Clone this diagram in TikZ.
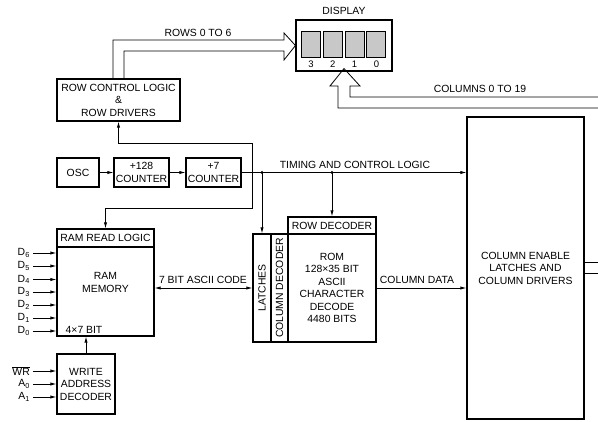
\documentclass[tikz,border=0pt]{standalone}
\usepackage{fontspec}
\setmainfont{Liberation Sans}
\usepackage{tikz}
\usetikzlibrary{
  arrows.meta,
  positioning,
  calc
}
\definecolor{digitgray}{RGB}{200,200,200}
\tikzset{
  blkbox/.style={draw, line width=1.1pt, inner sep=0pt,
    align=center, font=\fontsize{10.4}{12.5}\selectfont},
  lbl/.style={inner sep=0pt, align=center,
    font=\fontsize{10.4}{12.5}\selectfont},
  arr/.style={-{Latex[length=6pt,width=3.2pt]}, line width=0.8pt},
  darr/.style={{Latex[length=6pt,width=3.2pt]}-{Latex[length=6pt,width=3.2pt]}, line width=0.8pt},
  bus/.style={line width=0.8pt, line join=miter},
}

\begin{document}
\begin{tikzpicture}[x=1pt, y=-1pt]
  \useasboundingbox (0,0) rectangle (598,422);

  % Display
  \node[blkbox, minimum width=96pt, minimum height=51pt] (disp) at (344,45.5) {};
  \node[lbl, above=5pt of disp] (displbl) {DISPLAY};
  \foreach \i/\n in {0/3,1/2,2/1,3/0} {
    \node[draw, line width=0.9pt, fill=digitgray, minimum width=19pt,
          minimum height=26pt, inner sep=0pt] (dig\n) at (311+21.8*\i,44) {};
    \node[lbl, font=\fontsize{9.5}{11}\selectfont] at (311+21.8*\i,64) {\n};
  }

  % Row side
  \node[blkbox, minimum width=123pt, minimum height=42pt] (rowctl) at (118.5,100)
    {ROW CONTROL LOGIC\\\&\\ROW DRIVERS};

  % Timing chain
  \node[blkbox, minimum width=42pt, minimum height=29pt] (osc) at (78,172.5) {OSC};
  \node[blkbox, minimum width=55pt, minimum height=29pt] (cnta) at (141.5,172.5)
    {+128\\COUNTER};
  \node[blkbox, minimum width=55pt, minimum height=29pt] (cntb) at (213.5,172.5)
    {+7\\COUNTER};

  % RAM
  \node[blkbox, minimum width=97pt, minimum height=18pt] (ramrd) at (105.5,238)
    {RAM READ LOGIC};
  \node[blkbox, minimum width=97pt, minimum height=89pt] (ram) at (105.5,291.5) {};
  \node[lbl] (ramtxt) at ($(ram.center)+(0,-9)$) {RAM\\MEMORY};
  \node[lbl] (ramsize) at (84,330) {4×7 BIT};
  \node[blkbox, minimum width=58pt, minimum height=60pt] (wad) at (86,384)
    {WRITE\\ADDRESS\\DECODER};

  % ROM
  \node[blkbox, minimum width=88pt, minimum height=17pt] (rowdec) at (332,225.5)
    {ROW DECODER};
  \node[blkbox, minimum width=88pt, minimum height=108pt] (rom) at (332,288)
    {ROM\\128×35 BIT\\ASCII\\CHARACTER\\DECODE\\4480 BITS};
  \node[blkbox, minimum width=18pt, minimum height=108pt] (latch) at (262,288) {};
  \node[lbl, rotate=90] at (latch.center) {LATCHES};
  \node[blkbox, minimum width=17pt, minimum height=108pt] (coldec) at (279.5,288) {};
  \node[lbl, rotate=90] at (coldec.center) {COLUMN DECODER};

  % Column drivers
  \node[blkbox, minimum width=117pt, minimum height=302pt] (colen) at (525.5,268)
    {COLUMN ENABLE\\LATCHES AND\\COLUMN DRIVERS};

  % Rows bus
  \draw[bus] ([xshift=-5.5pt]rowctl.north) |- (284,40) -- (284,33) -- (disp.west)
    -- (284,60) -- (284,51) -| ([xshift=5.5pt]rowctl.north);
  \node[lbl] at (198,33) {ROWS 0 TO 6};

  % Columns bus
  \coordinate (cbi) at (598,97);
  \coordinate (cbo) at (598,108);
  \draw[bus] (cbi) -| (350,86) -- (360,86) -- ([yshift=3pt]disp.south)
    -- (330,86) -- (338,86) |- (cbo);
  \node[lbl] at (480,89) {COLUMNS 0 TO 19};
  \coordinate (outa) at (598,262);
  \coordinate (outb) at (598,273);
  \draw[line width=0.8pt] (outa -| colen.east) -- (outa);
  \draw[line width=0.8pt] (outb -| colen.east) -- (outb);

  % Timing and control
  \draw[arr] (osc) -- (cnta);
  \draw[arr] (cnta) -- (cntb);
  \draw[arr] (cntb.east) -- (cntb.east -| colen.west);
  \node[lbl] at (355,165) {TIMING AND CONTROL LOGIC};
  \coordinate (tapa) at (latch.north |- cntb.east);
  \coordinate (tapb) at (rowdec.north |- cntb.east);
  \fill (tapa) circle (1.6pt);
  \fill (tapb) circle (1.6pt);
  \draw[arr] (tapa) -- (latch.north);
  \draw[arr] (tapb) -- (rowdec.north);

  % Read loop
  \coordinate (lpa) at (252,143);
  \coordinate (lpb) at (252,208);
  \draw[arr] (lpa) -| (rowctl.south);
  \draw[arr] (lpa) -- (lpb) -| (ramrd.north);

  % Data inputs
  \foreach \n/\y in {6/253,5/266,4/279.5,3/292,2/305,1/318,0/331} {
    \coordinate (din\n) at (33,\y);
    \draw[arr] (din\n) -- (din\n -| ram.west);
    \node[lbl, left=3pt of din\n] {D\textsubscript{\n}};
  }
  \foreach \c/\y/\t in {wr/371/{$\overline{\hbox{WR}}$}, aa/384/A\textsubscript{0},
                        ab/397/A\textsubscript{1}} {
    \coordinate (in\c) at (33,\y);
    \draw[arr] (in\c) -- (in\c -| wad.west);
    \node[lbl, left=3pt of in\c] {\t};
  }
  \draw[arr] (wad.north) -- (wad.north |- ram.south);

  % Data paths
  \draw[darr] (latch.west -| ram.east) -- (latch.west);
  \node[lbl] at (203,280) {7 BIT ASCII CODE};
  \draw[arr] (rom.east) -- (rom.east -| colen.west);
  \node[lbl] at (417,280) {COLUMN DATA};
\end{tikzpicture}
\end{document}
